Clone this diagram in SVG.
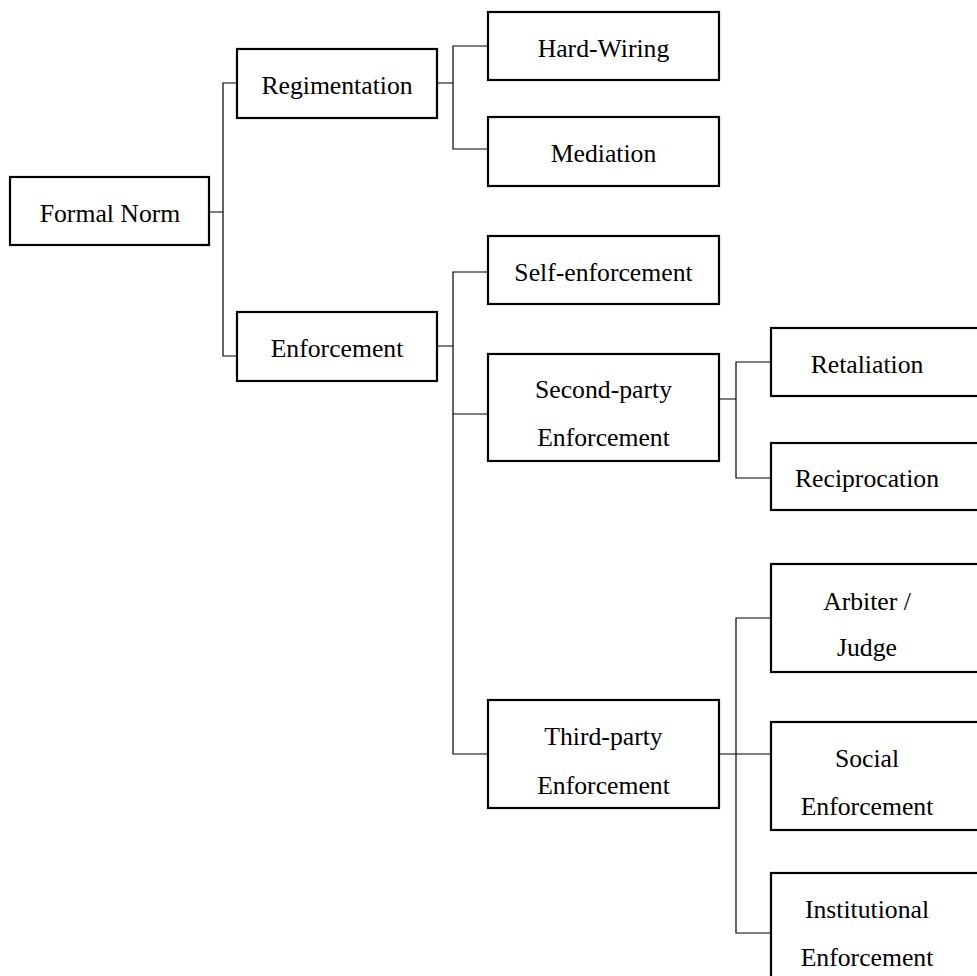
<svg xmlns="http://www.w3.org/2000/svg" width="977" height="976" viewBox="0 0 977 976">
  <style>
    .box { fill: #ffffff; stroke: #000000; stroke-width: 2.2; }
    .wire { fill: none; stroke: #000000; stroke-width: 1.2; }
    .lbl { font-family: 'Liberation Serif', 'Times New Roman', Times, 'DejaVu Serif', serif; font-size: 25.7px; fill: #000000; text-anchor: middle; }
  </style>
  <rect width="977" height="976" fill="#ffffff"/>

  <!-- tree connectors -->
  <g id="connectors">
    <!-- Formal Norm -> Regimentation / Enforcement -->
    <path class="wire" d="M209,212 H223 M237,83 H223 V356 H237"/>
    <!-- Regimentation -> Hard-Wiring / Mediation -->
    <path class="wire" d="M437,83 H453 M488,46 H453 V149 H488"/>
    <!-- Enforcement -> Self / Second-party / Third-party -->
    <path class="wire" d="M437,346 H453 M488,272 H453 V754 H488 M453,414 H488"/>
    <!-- Second-party -> Retaliation / Reciprocation -->
    <path class="wire" d="M719,399 H736 M771,362 H736 V478 H771"/>
    <!-- Third-party -> Arbiter / Social / Institutional -->
    <path class="wire" d="M719,754 H771 M771,618 H736 V933 H771"/>
  </g>

  <g class="lbl" font-family="Liberation Serif, serif">
  <g id="formal-norm">
    <rect class="box" x="10" y="177" width="199" height="68"/>
    <text x="110" y="221.5">Formal Norm</text>
  </g>
  <g id="regimentation">
    <rect class="box" x="237" y="49" width="200" height="69"/>
    <text x="337" y="94">Regimentation</text>
  </g>
  <g id="enforcement">
    <rect class="box" x="237" y="312" width="200" height="69"/>
    <text x="337" y="357">Enforcement</text>
  </g>
  <g id="hard-wiring">
    <rect class="box" x="488" y="12" width="231" height="68"/>
    <text x="603.5" y="56.5">Hard-Wiring</text>
  </g>
  <g id="mediation">
    <rect class="box" x="488" y="117" width="231" height="69"/>
    <text x="603.5" y="162">Mediation</text>
  </g>
  <g id="self-enforcement">
    <rect class="box" x="488" y="236" width="231" height="68"/>
    <text x="603.5" y="281">Self-enforcement</text>
  </g>
  <g id="second-party">
    <rect class="box" x="488" y="354" width="231" height="107"/>
    <text x="603.5" y="397.5">Second-party</text>
    <text x="603.5" y="446">Enforcement</text>
  </g>
  <g id="third-party">
    <rect class="box" x="488" y="700" width="231" height="108"/>
    <text x="603.5" y="745">Third-party</text>
    <text x="603.5" y="793.5">Enforcement</text>
  </g>
  <g id="retaliation">
    <rect class="box" x="771" y="328" width="231" height="68"/>
    <text x="867" y="372.5">Retaliation</text>
  </g>
  <g id="reciprocation">
    <rect class="box" x="771" y="443" width="231" height="67"/>
    <text x="867" y="486.5">Reciprocation</text>
  </g>
  <g id="arbiter-judge">
    <rect class="box" x="771" y="564" width="231" height="108"/>
    <text x="867" y="609.5">Arbiter /</text>
    <text x="867" y="656">Judge</text>
  </g>
  <g id="social-enforcement">
    <rect class="box" x="771" y="722" width="231" height="108"/>
    <text x="867" y="767">Social</text>
    <text x="867" y="815">Enforcement</text>
  </g>
  <g id="institutional-enforcement">
    <rect class="box" x="771" y="873" width="231" height="120"/>
    <text x="867" y="918">Institutional</text>
    <text x="867" y="966">Enforcement</text>
  </g>
  </g>
</svg>
